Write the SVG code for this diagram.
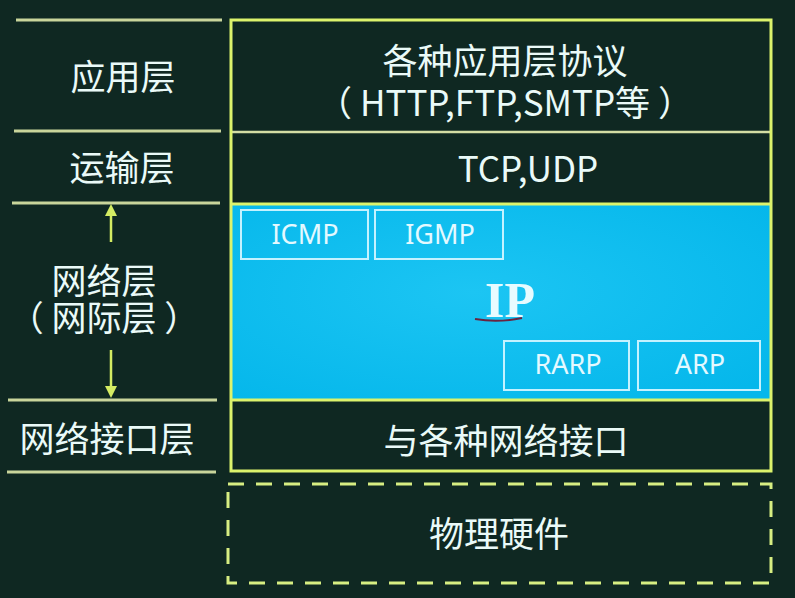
<svg xmlns="http://www.w3.org/2000/svg" width="795" height="598" viewBox="0 0 795 598">
  <defs>
    <style>
      .cn { font-family: "Noto Sans CJK SC", "Noto Sans", sans-serif; fill: #eafaf8; text-anchor: middle; }
      .lbl { font-size: 35px; }
      .big { font-size: 35px; }
      .sep { stroke: #c9d59b; stroke-width: 3; }
      .frame { fill: none; stroke: #dcf36c; stroke-width: 3; }
      .proto { fill: none; stroke: #c4f2ff; stroke-width: 2; }
      .ptxt { font-family: "Noto Sans", "Open Sans", sans-serif; font-size: 27px; fill: #e4f9ff; text-anchor: middle; }
      .arr { stroke: #d4ec63; stroke-width: 2.5; fill: none; }
      .head { fill: #d4ec63; }
    </style>
    <radialGradient id="ipfill" cx="0.45" cy="0.45" r="0.7">
      <stop offset="0" stop-color="#1cc5f3"/>
      <stop offset="1" stop-color="#05b7eb"/>
    </radialGradient>
  </defs>

  <!-- background -->
  <rect x="0" y="0" width="795" height="598" fill="#0f2822"/>

  <!-- left column: layer names -->
  <g id="layer-labels">
    <line class="sep" x1="16" y1="20" x2="222" y2="20"/>
    <line class="sep" x1="14" y1="131" x2="221" y2="131"/>
    <line class="sep" x1="12" y1="203" x2="220" y2="203"/>
    <line class="sep" x1="8" y1="400" x2="217" y2="400"/>
    <line class="sep" x1="7" y1="472" x2="216" y2="472"/>
    <g id="app-label"><text class="cn lbl" x="123" y="90">应用层</text></g>
    <g id="transport-label"><text class="cn lbl" x="122" y="181">运输层</text></g>
    <g id="network-label">
      <text class="cn lbl" x="104" y="294">网络层</text>
      <text class="cn lbl" x="104" y="331">（ 网际层 ）</text>
    </g>
    <g id="link-label"><text class="cn lbl" x="107" y="452">网络接口层</text></g>
  </g>

  <!-- network layer span arrows -->
  <g id="connectors">
    <line class="arr" x1="111" y1="242" x2="111" y2="214"/>
    <polygon class="head" points="111,204 105,216 117,216"/>
    <line class="arr" x1="111" y1="350" x2="111" y2="388"/>
    <polygon class="head" points="111,398 105,386 117,386"/>
  </g>

  <!-- protocol stack -->
  <g id="stack">
    <rect x="231" y="204" width="540" height="196" fill="url(#ipfill)"/>
    <line x1="231" y1="132" x2="771" y2="132" stroke="#d3dda4" stroke-width="2.5"/>
    <line x1="231" y1="204" x2="771" y2="204" stroke="#dcf36c" stroke-width="3"/>
    <line x1="231" y1="400" x2="771" y2="400" stroke="#dcf36c" stroke-width="3"/>
    <rect class="frame" x="231" y="20" width="540" height="451"/>
  </g>

  <g id="application">
    <text class="cn big" x="505" y="74">各种应用层协议</text>
    <text class="cn big" x="505" y="116">（ HTTP,FTP,SMTP等 ）</text>
  </g>

  <g id="transport">
    <text class="cn big" x="528" y="182">TCP,UDP</text>
  </g>

  <g id="network">
    <text x="510" y="317" font-family="Liberation Serif, serif" font-weight="bold" font-size="50" fill="#e8fbff" text-anchor="middle">IP</text>
    <path d="M475,319 Q498,323 522,318" stroke="#6a2440" stroke-width="2" fill="none"/>
  </g>

  <g id="icmp">
    <rect class="proto" x="241" y="210" width="127" height="49"/>
    <text class="ptxt" x="305" y="244">ICMP</text>
  </g>
  <g id="igmp">
    <rect class="proto" x="375" y="210" width="128" height="49"/>
    <text class="ptxt" x="440" y="244">IGMP</text>
  </g>
  <g id="rarp">
    <rect class="proto" x="504" y="341" width="125" height="49"/>
    <text class="ptxt" x="568" y="374">RARP</text>
  </g>
  <g id="arp">
    <rect class="proto" x="638" y="341" width="122" height="49"/>
    <text class="ptxt" x="700" y="374">ARP</text>
  </g>

  <g id="interface">
    <text class="cn big" x="506" y="454">与各种网络接口</text>
  </g>

  <g id="hardware">
    <rect x="228" y="484" width="543" height="99" fill="none" stroke="#d7ee82" stroke-width="3" stroke-dasharray="16 12"/>
    <text class="cn big" x="499" y="547">物理硬件</text>
  </g>
</svg>
